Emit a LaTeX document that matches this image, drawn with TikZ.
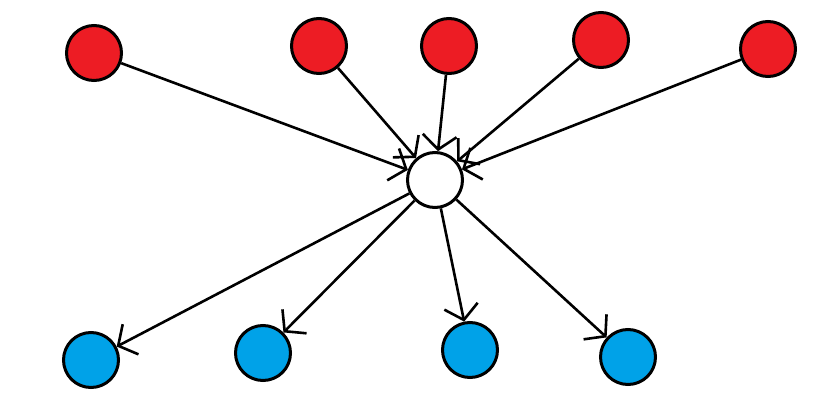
\documentclass[tikz,border=0pt]{standalone}
\usetikzlibrary{arrows.meta}
\definecolor{pred}{HTML}{ED1C24}
\definecolor{pblue}{HTML}{00A2E8}
\begin{document}
\begin{tikzpicture}[x=1pt,y=-1pt,
  dot/.style={circle,draw=black,line width=3pt,minimum size=55pt,inner sep=0pt},
  src/.style={dot,fill=pred},
  dst/.style={dot,fill=pblue},
  hub/.style={dot,fill=white},
  link/.style={draw=black,line width=2.6pt,-{Straight Barb[length=14pt,width=34pt,line width=2.6pt]}}]
\useasboundingbox (0,0) rectangle (833,420);
\node[src] (r1) at (94,53) {};
\node[src] (r2) at (319,46) {};
\node[src] (r3) at (449,46) {};
\node[src] (r4) at (601,40) {};
\node[src] (r5) at (768,49) {};
\node[hub] (c) at (435,180) {};
\node[dst] (b1) at (91,360) {};
\node[dst] (b2) at (263,353) {};
\node[dst] (b3) at (470,350) {};
\node[dst] (b4) at (628,357) {};
\foreach \n in {r1,r2,r3,r4,r5} \draw[link] (\n) -- (c);
\foreach \n in {b1,b2,b3,b4} \draw[link] (c) -- (\n);
\end{tikzpicture}
\end{document}
